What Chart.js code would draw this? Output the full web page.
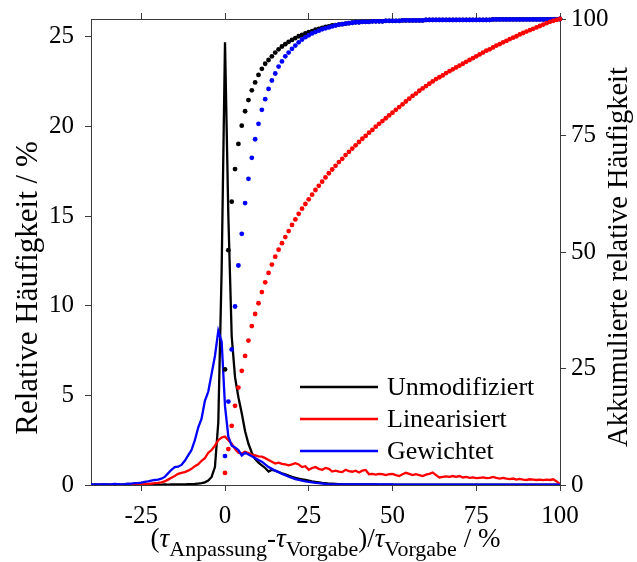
<!DOCTYPE html>
<html>
<head>
<meta charset="utf-8">
<script src="https://cdn.jsdelivr.net/npm/chart.js@4.4.1/dist/chart.umd.min.js"></script>
<style>
  html, body { margin: 0; padding: 0; background: #fff; }
  canvas { display: block; }
</style>
</head>
<body>
<canvas id="chart" width="637" height="562"></canvas>
<script>
// Achsen-Ticks
const xTicks = [-25, 0, 25, 50, 75, 100];
const leftTicks = [0, 5, 10, 15, 20, 25];
const rightTicks = [0, 25, 50, 75, 100];

// Relative Häufigkeit (Histogramm), x = -40 ... 100
const histX = [
  -40,-39,-38,-37,-36,-35,-34,-33,-32,-31,-30,-29,-28,-27,-26,-25,-24,-23,-22,-21,
  -20,-19,-18,-17,-16,-15,-14,-13,-12,-11,-10,-9,-8,-7,-6,-5,-4,-3,-2,-1,
  0,1,2,3,4,5,6,7,8,9,10,11,12,13,14,15,16,17,18,19,
  20,21,22,23,24,25,26,27,28,29,30,31,32,33,34,35,36,37,38,39,
  40,41,42,43,44,45,46,47,48,49,50,51,52,53,54,55,56,57,58,59,
  60,61,62,63,64,65,66,67,68,69,70,71,72,73,74,75,76,77,78,79,
  80,81,82,83,84,85,86,87,88,89,90,91,92,93,94,95,96,97,98,99,100
];

const histUnmod = [
  0.02,0.02,0.02,0.02,0.02,0.02,0.02,0.02,0.02,0.02,0.02,0.02,0.02,0.02,0.02,0.02,0.02,0.02,0.02,0.02,
  0.02,0.02,0.03,0.02,0.03,0.03,0.03,0.04,0.04,0.05,0.05,0.06,0.08,0.1,
  0.15,0.25,0.45,1.0,3.5,12.0,24.7,15.0,8.3,6.0,4.9,4.0,3.0,2.3,1.8,1.45,
  1.25,1.1,0.95,0.75,0.85,0.8,0.72,0.65,0.6,0.52,0.45,0.4,0.35,0.32,0.28,0.24,0.2,0.17,0.15,0.12,
  0.1,0.08,0.07,0.06,0.05,0.04,
  0.03,0.03,0.03,0.03,0.03,0.03,0.03,0.03,0.03,0.03,
  0.02,0.02,0.02,0.02,0.02,0.02,0.02,0.02,0.02,0.02,0.02,0.02,0.02,0.02,0.02,0.02,0.02,0.02,0.02,0.02,
  0.02,0.02,0.02,0.02,0.02,0.02,0.02,0.02,0.02,0.02,0.02,0.02,0.02,0.02,0.02,0.02,0.02,0.02,0.02,0.02,
  0.02,0.02,0.02,0.02,0.02,0.02,0.02,0.02,0.02,0.02,0.02,0.02,0.02,0.02,0.02
];

const histLin = [
  0,0,0,0,0,0,0,0,0,0,0,0,0,0,0,
  0.02,0.05,0.06,0.08,0.1,0.12,0.15,0.2,0.3,0.4,
  0.5,0.62,0.68,0.72,0.8,0.9,1.05,1.15,1.35,1.5,
  1.8,1.95,2.2,2.5,2.65,2.7,2.5,2.3,2.0,1.8,
  1.75,1.85,1.78,1.7,1.65,1.6,1.58,1.5,1.4,1.3,
  1.2,1.25,1.18,1.15,1.1,1.15,1.22,1.15,1.0,1.05,
  0.85,0.95,1.0,0.9,0.85,0.95,0.9,0.75,0.8,0.75,
  0.72,0.85,0.78,0.74,0.8,0.7,0.8,0.84,0.6,0.62,
  0.58,0.62,0.6,0.55,0.6,0.62,0.55,0.5,0.6,0.68,
  0.62,0.55,0.6,0.55,0.5,0.58,0.62,0.7,0.55,0.42,
  0.45,0.48,0.45,0.5,0.46,0.5,0.42,0.45,0.4,0.42,
  0.38,0.4,0.42,0.38,0.4,0.45,0.4,0.36,0.4,0.35,
  0.33,0.36,0.3,0.34,0.3,0.28,0.32,0.3,0.28,0.3,
  0.27,0.3,0.28,0.32,0.2,0.05
];

const histGew = [
  0.03,0.03,0.04,0.03,0.05,0.04,0.03,0.06,0.05,0.04,
  0.05,0.07,0.08,0.1,0.11,0.13,0.17,0.2,0.24,0.28,
  0.3,0.35,0.45,0.65,0.85,1.0,1.02,1.12,1.35,1.65,
  1.95,2.5,3.2,3.7,4.7,5.2,6.2,7.2,8.6,8.0,
  4.4,2.7,2.2,2.1,1.95,1.65,1.8,1.7,1.6,1.5,
  1.4,1.3,1.15,1.0,0.9,0.8,0.72,0.62,0.55,0.46,
  0.4,0.33,0.28,0.24,0.2,0.17,0.15,0.12,0.1,0.08,
  0.06,0.05,
  0.04,0.04,0.04,0.04,0.04,0.04,0.04,0.04,0.04,
  0.03,0.03,0.03,0.03,0.03,0.03,0.03,0.03,0.03,0.03,0.02,0.02,0.02,0.02,0.02,0.02,0.02,0.02,0.02,0.02,
  0.02,0.02,0.02,0.02,0.02,0.02,0.02,0.02,0.02,0.02,0.02,0.02,0.02,0.02,0.02,0.02,0.02,0.02,0.02,0.02,
  0.02,0.02,0.02,0.02,0.02,0.02,0.02,0.02,0.02,0.02,0.02,0.02,0.02,0.02,0.02,0.02,0.02,0.02,0.02,0.02
];

// Akkumulierte relative Häufigkeit, x = 0 ... 100
const cumX = [
  0,1,2,3,4,5,6,7,8,9,10,11,12,13,14,15,16,17,18,19,
  20,21,22,23,24,25,26,27,28,29,30,31,32,33,34,35,36,37,38,39,
  40,41,42,43,44,45,46,47,48,49,50,51,52,53,54,55,56,57,58,59,
  60,61,62,63,64,65,66,67,68,69,70,71,72,73,74,75,76,77,78,79,
  80,81,82,83,84,85,86,87,88,89,90,91,92,93,94,95,96,97,98,99,100
];

const cumUnmod = [
  24.8,50.4,60.8,67.8,73.2,77.1,80.2,82.6,84.7,86.4,
  88.0,89.3,90.4,91.2,92.0,92.8,93.5,94.1,94.6,95.1,
  95.5,95.9,96.3,96.6,96.9,97.2,97.4,97.7,97.9,98.1,
  98.3,98.4,98.6,98.7,98.8,98.9,99.0,99.1,99.2,99.3,
  99.3,99.4,99.4,99.4,99.5,99.5,99.5,99.5,99.6,99.6,
  99.6,99.6,99.6,99.7,99.7,99.7,99.7,99.7,99.7,99.7,
  99.8,99.8,99.8,99.8,99.8,99.8,99.8,99.8,99.8,99.8,
  99.8,99.8,99.8,99.8,99.8,99.8,99.8,99.8,99.8,99.8,
  99.9,99.9,99.9,99.9,99.9,99.9,99.9,99.9,99.9,99.9,
  99.9,99.9,99.9,99.9,99.9,99.9,99.9,99.9,99.9,99.9,100
];

const cumLin = [
  2.6,7.7,12.7,17.0,20.9,24.5,27.7,31.0,34.1,36.7,
  39.0,41.4,43.5,45.5,47.3,49.0,50.5,51.9,53.2,54.5,
  55.8,57.0,58.2,59.3,60.3,61.3,62.3,63.3,64.2,65.1,
  66.0,66.9,67.7,68.5,69.3,70.0,70.8,71.5,72.2,72.9,
  73.6,74.3,74.9,75.6,76.2,76.9,77.5,78.1,78.7,79.3,
  79.9,80.5,81.1,81.7,82.3,82.9,83.5,84.0,84.6,85.1,
  85.6,86.1,86.6,87.1,87.5,87.9,88.4,88.8,89.2,89.6,
  90.0,90.4,90.8,91.2,91.6,92.0,92.4,92.8,93.2,93.5,
  93.9,94.3,94.6,95.0,95.3,95.7,96.0,96.3,96.7,97.0,
  97.3,97.6,97.9,98.2,98.5,98.8,99.1,99.4,99.6,99.8,100
];

const cumGew = [
  6.2,17.9,29.1,38.3,47.1,53.9,60.5,65.7,70.2,74.2,
  77.5,80.5,82.8,85.0,86.8,88.3,89.8,90.9,92.0,92.8,
  93.6,94.3,95.0,95.6,96.1,96.5,96.9,97.2,97.5,97.8,
  98.0,98.2,98.4,98.6,98.8,98.9,99.0,99.1,99.2,99.3,
  99.3,99.4,99.4,99.4,99.5,99.5,99.5,99.5,99.6,99.6,
  99.6,99.6,99.6,99.7,99.7,99.7,99.7,99.7,99.7,99.7,
  99.8,99.8,99.8,99.8,99.8,99.8,99.8,99.8,99.8,99.8,
  99.8,99.8,99.8,99.8,99.8,99.8,99.8,99.8,99.8,99.8,
  99.9,99.9,99.9,99.9,99.9,99.9,99.9,99.9,99.9,99.9,
  99.9,99.9,99.9,99.9,99.9,99.9,99.9,99.9,99.9,99.9,100
];

const FONT = '"Liberation Serif", "Times New Roman", serif';
const AXIS_COLOR = '#3a3a3a';

function pts(xs, ys) {
  return xs.map((x, i) => ({ x, y: ys[i] }));
}

function histSet(label, ys, color, order) {
  return {
    label, data: pts(histX, ys), yAxisID: 'y',
    borderColor: color, backgroundColor: color, borderWidth: 2.3,
    pointRadius: 0, tension: 0, fill: false, order
  };
}

function cumSet(label, ys, color, order) {
  return {
    label, data: pts(cumX, ys), yAxisID: 'y2', showLine: false,
    borderColor: color, backgroundColor: color, pointRadius: 2.4, pointBorderWidth: 0,
    clip: false, order
  };
}

function fixTicks(values) {
  return scale => { scale.ticks = values.map(v => ({ value: v })); };
}

// feste Achsengrößen, keine Extra-Polsterung für Randbeschriftungen
function fixSize(prop, size) {
  return scale => {
    scale[prop] = size;
    scale.paddingTop = 0; scale.paddingBottom = 0;
    scale.paddingLeft = 0; scale.paddingRight = 0;
  };
}

// Achsentitel (rechts von unten nach oben, x mit Indizes)
const titlePlugin = {
  id: 'titles',
  afterDraw(chart) {
    const { ctx, chartArea } = chart;
    ctx.save();
    ctx.fillStyle = '#000';
    ctx.textAlign = 'center';
    ctx.textBaseline = 'middle';

    ctx.save();
    ctx.font = '31px ' + FONT;
    ctx.translate(29, 288);
    ctx.rotate(-Math.PI / 2);
    ctx.fillText('Relative Häufigkeit / %', 0, 0);
    ctx.restore();

    ctx.save();
    ctx.font = '28.5px ' + FONT;
    ctx.translate(620, 257);
    ctx.rotate(-Math.PI / 2);
    ctx.fillText('Akkumulierte relative Häufigkeit', 0, 0);
    ctx.restore();

    // x-Titel
    const main = '27px ' + FONT, tau = 'italic 27px ' + FONT, sub = '22px ' + FONT;
    const parts = [
      ['(', main, 0], ['τ', tau, 0], ['Anpassung', sub, 1],
      ['-', main, 0], ['τ', tau, 0], ['Vorgabe', sub, 1],
      [')/', main, 0], ['τ', tau, 0], ['Vorgabe', sub, 1], [' / %', main, 0]
    ];
    let total = 0;
    parts.forEach(p => { ctx.font = p[1]; p.push(ctx.measureText(p[0]).width); total += p[3]; });
    let x = (chartArea.left + chartArea.right) / 2 - total / 2;
    const base = 547;
    ctx.textAlign = 'left';
    ctx.textBaseline = 'alphabetic';
    parts.forEach(p => {
      ctx.font = p[1];
      ctx.fillText(p[0], x, p[2] ? base + 9 : base);
      x += p[3];
    });
    ctx.restore();
  }
};

// Legende im Diagramm unten rechts
const legendPlugin = {
  id: 'innerLegend',
  afterDraw(chart) {
    const { ctx } = chart;
    const items = chart.data.datasets.filter(d => d.yAxisID === 'y');
    ctx.save();
    ctx.font = '26px ' + FONT;
    ctx.textBaseline = 'middle';
    ctx.textAlign = 'left';
    items.forEach((d, i) => {
      const y = 387 + i * 32;
      ctx.strokeStyle = d.borderColor;
      ctx.lineWidth = 2.6;
      ctx.beginPath();
      ctx.moveTo(300, y);
      ctx.lineTo(378, y);
      ctx.stroke();
      ctx.fillStyle = '#000';
      ctx.fillText(d.label, 387, y + 1);
    });
    ctx.restore();
  }
};

const tickFont = { family: FONT, size: 25 };

new Chart(document.getElementById('chart'), {
  type: 'line',
  data: {
    datasets: [
      histSet('Unmodifiziert', histUnmod, '#000000', 6),
      histSet('Linearisiert', histLin, '#ff0000', 5),
      histSet('Gewichtet', histGew, '#0000ff', 4),
      cumSet('Unmodifiziert kum.', cumUnmod, '#000000', 3),
      cumSet('Gewichtet kum.', cumGew, '#0000ff', 2),
      cumSet('Linearisiert kum.', cumLin, '#ff0000', 1)
    ]
  },
  options: {
    responsive: false,
    animation: false,
    devicePixelRatio: 1,
    layout: { padding: 0 },
    plugins: { legend: { display: false }, tooltip: { enabled: false } },
    scales: {
      x: {
        type: 'linear', position: 'bottom', min: -40, max: 100,
        afterBuildTicks: fixTicks(xTicks),
        afterFit: fixSize('height', 77),
        ticks: { font: tickFont, color: '#000', padding: 10, maxRotation: 0, autoSkip: false },
        grid: { drawOnChartArea: false, tickLength: 6, color: AXIS_COLOR },
        border: { color: AXIS_COLOR, width: 1 }
      },
      xTop: {
        type: 'linear', position: 'top', min: -40, max: 100,
        afterBuildTicks: fixTicks(xTicks),
        afterFit: fixSize('height', 19),
        ticks: { display: false },
        grid: { drawOnChartArea: false, tickLength: 6, color: AXIS_COLOR },
        border: { color: AXIS_COLOR, width: 1 }
      },
      y: {
        type: 'linear', position: 'left', min: 0, max: 26,
        afterBuildTicks: fixTicks(leftTicks),
        afterFit: fixSize('width', 91),
        ticks: { font: tickFont, color: '#000', padding: 11 },
        grid: { drawOnChartArea: false, tickLength: 6, color: AXIS_COLOR },
        border: { color: AXIS_COLOR, width: 1 }
      },
      y2: {
        type: 'linear', position: 'right', min: 0, max: 100,
        afterBuildTicks: fixTicks(rightTicks),
        afterFit: fixSize('width', 77),
        ticks: { font: tickFont, color: '#000', padding: 5 },
        grid: { drawOnChartArea: false, tickLength: 6, color: AXIS_COLOR },
        border: { color: AXIS_COLOR, width: 1 }
      }
    }
  },
  plugins: [titlePlugin, legendPlugin]
});
</script>
</body>
</html>
